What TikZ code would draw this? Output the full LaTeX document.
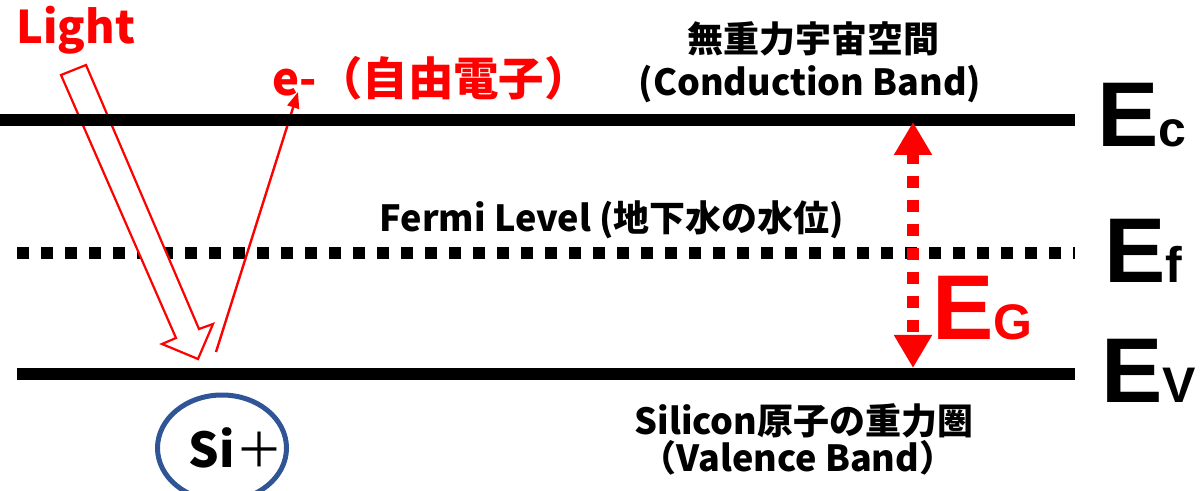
\documentclass[tikz,border=0pt]{standalone}
\usepackage{fontspec}
\setmainfont{Noto Sans CJK JP}
\newfontfamily\arl{Liberation Sans}
\usetikzlibrary{arrows.meta,shapes.geometric}
\definecolor{myred}{RGB}{255,0,0}
\definecolor{siblue}{RGB}{47,85,151}
\newcommand{\subsz}{\fontsize{25pt}{28pt}\selectfont}
\begin{document}
\begin{tikzpicture}[x=0.5pt,y=-0.5pt,
  txt/.style={inner sep=0pt, font=\bfseries\fontsize{18pt}{22pt}\selectfont},
  redtxt/.style={inner sep=0pt, text=myred, font=\bfseries\fontsize{22.7pt}{26pt}\selectfont},
  elabel/.style={inner sep=0pt, anchor=base west, font=\arl\bfseries\fontsize{46pt}{50pt}\selectfont},
  band/.style={line width=6pt},
  fermi/.style={line width=6pt, dash pattern=on 6pt off 6pt},
  gaparrow/.style={myred, line width=6pt, dash pattern=on 6pt off 6pt, dash phase=9.5pt,
     {Triangle[width=18pt,length=16.5pt]}-{Triangle[width=18pt,length=16.5pt]}},
  lightarrow/.style={myred, line width=1.1pt, fill=white, line join=miter},
  electron/.style={myred, line width=1.2pt, -{Triangle[width=6pt,length=8pt]}}]
\useasboundingbox (0,0) rectangle (1203,491);
% coordinates
\coordinate (ec0) at (0,120);
\coordinate (ec1) at (1075,120);
\coordinate (ef0) at (17,253);
\coordinate (ef1) at (1075,253);
\coordinate (ev0) at (17,374);
\coordinate (ev1) at (1075,374);
\coordinate (g0) at (913,368);
\coordinate (g1) at (913,122);
\coordinate (e0) at (216,352);
\coordinate (e1) at (298,92);
% Fermi level (below arrows)
\draw[fermi] (ef0) -- (ef1);
% light arrow (hollow)
\draw[lightarrow] (61,75) -- (86,65) -- (199,329) -- (213,324) -- (198,359) -- (162,344) -- (176,338) -- cycle;
% electron
\draw[electron] (e0) -- (e1);
% bands
\draw[band] (ec0) -- (ec1);
\draw[band] (ev0) -- (ev1);
% gap arrow
\draw[gaparrow] (g0) -- (g1);
% texts
\node[inner sep=0pt, anchor=base west, text=myred, font=\bfseries\fontsize{22.5pt}{26pt}\selectfont] (light) at (16,44) {Light};
\node[redtxt] (elec) at (431,78) {e-（自由電子）};
\node[txt] (cb1) at (813,39) {無重力宇宙空間};
\node[txt] (cb2) at (810,84) {(Conduction Band)};
\node[txt] (fl) at (612,220) {Fermi Level (地下水の水位)};
\node[txt] (vb1) at (804,421) {Silicon原子の重力圏};
\node[txt] (vb2) at (798,458) {（Valence Band）};
\node[elabel] (ec) at (1097,147) {E{\subsz c}};
\node[elabel] (ef) at (1104,283) {E{\subsz f}};
\node[elabel] (ev) at (1101,402) {E{\subsz V}};
\node[elabel, text=myred] (eg) at (932,340) {E{\subsz G}};
\node[ellipse, draw=siblue, line width=2.5pt, minimum width=64.5pt, minimum height=53pt, inner sep=0pt] (si) at (222,448) {};
\node[inner sep=0pt, font=\bfseries\fontsize{24pt}{28pt}\selectfont] (sitxt) at (236,448) {Si{\mdseries ＋}};
\end{tikzpicture}
\end{document}
